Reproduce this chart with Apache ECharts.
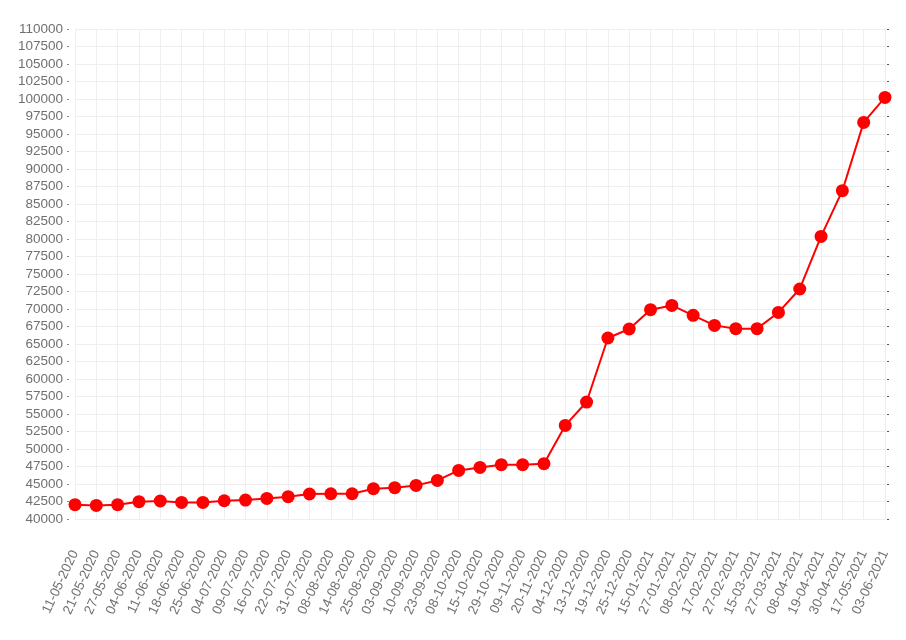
<!DOCTYPE html>
<html>
<head>
<meta charset="utf-8">
<script src="https://cdn.jsdelivr.net/npm/echarts@6/dist/echarts.min.js"></script>
<style>html,body{margin:0;padding:0;background:#fff}#c{width:906px;height:640px}</style>
</head>
<body>
<div id="c"></div>
<script>
var categories = ["11-05-2020","21-05-2020","27-05-2020","04-06-2020","11-06-2020","18-06-2020","25-06-2020","04-07-2020","09-07-2020","16-07-2020","22-07-2020","31-07-2020","08-08-2020","14-08-2020","25-08-2020","03-09-2020","10-09-2020","23-09-2020","08-10-2020","15-10-2020","29-10-2020","09-11-2020","20-11-2020","04-12-2020","13-12-2020","19-12-2020","25-12-2020","15-01-2021","27-01-2021","08-02-2021","17-02-2021","27-02-2021","15-03-2021","27-03-2021","08-04-2021","19-04-2021","30-04-2021","17-05-2021","03-06-2021"];
var values = [42040,41940,42040,42470,42570,42370,42370,42610,42710,42940,43190,43570,43610,43610,44330,44470,44800,45510,46940,47370,47760,47760,47900,53370,56710,65860,67140,69900,70510,69090,67660,67190,67190,69510,72860,80370,86900,96660,100230];
var yMin = 40000, yMax = 110000, yStep = 2500;

var chart = echarts.init(document.getElementById('c'), null, {renderer: 'canvas'});
var font = 'Liberation Sans, Arial, sans-serif';
chart.setOption({
  animation: false,
  grid: {left: 75, right: 21, top: 29, bottom: 121, containLabel: false},
  xAxis: {
    type: 'category',
    data: categories,
    boundaryGap: false,
    axisLine: {show: false},
    axisTick: {show: false},
    splitLine: {show: true, lineStyle: {color: '#efefef', width: 1}},
    axisLabel: {rotate: 65, margin: 32, color: '#707070', fontSize: 13.5, fontFamily: font, interval: 0}
  },
  yAxis: [{
    type: 'value',
    min: yMin, max: yMax, interval: yStep,
    offset: 6,
    axisLine: {show: false},
    axisTick: {show: true, length: 2, lineStyle: {color: '#888'}},
    splitLine: {show: true, lineStyle: {color: '#efefef', width: 1}},
    axisLabel: {color: '#707070', fontSize: 13.5, fontFamily: font, margin: 6, formatter: function (v) { return String(v); }}
  }, {
    type: 'value',
    position: 'right',
    min: yMin, max: yMax, interval: yStep,
    offset: 4,
    axisLine: {show: false},
    axisTick: {show: true, length: 2, inside: true, lineStyle: {color: '#555'}},
    splitLine: {show: false},
    axisLabel: {show: false}
  }],
  series: [{
    type: 'line',
    data: values,
    yAxisIndex: 0,
    symbol: 'circle',
    symbolSize: 13,
    showSymbol: true,
    lineStyle: {color: '#ff0000', width: 2},
    itemStyle: {color: '#ff0000'}
  }]
});
</script>
</body>
</html>
